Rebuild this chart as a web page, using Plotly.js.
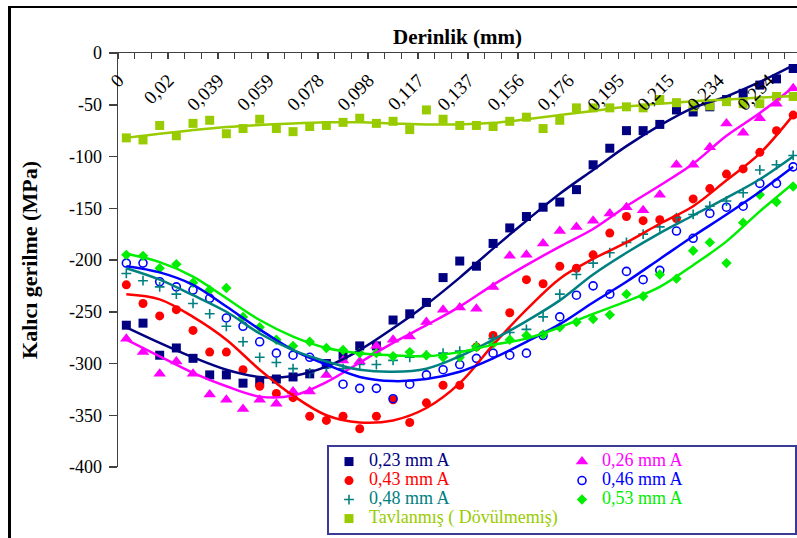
<!DOCTYPE html>
<html>
<head>
<meta charset="utf-8">
<script src="https://cdn.plot.ly/plotly-3.0.1.min.js"></script>
<style>
html,body{margin:0;padding:0;background:#fff;}
#wrap{position:relative;width:797px;height:538px;overflow:hidden;}
#chart{width:797px;height:538px;}
#frame{position:absolute;left:8px;top:6px;width:830px;height:580px;border-left:3px solid #000;border-top:2px solid #000;pointer-events:none;}
</style>
</head>
<body>
<div id="wrap"><div id="chart"></div><div id="frame"></div></div>
<script>
// Category index of each measured depth (depth step ~0.0065 mm)
const cats = [0,1,2,3,4,5,6,7,8,9,10,11,12,13,14,15,16,17,18,19,20,21,22,23,24,25,26,27,28,29,30,31,32,33,34,35,36,37,38,39,40];
// Labelled categories and their depth labels (mm)
const tickCats = [0,3,6,9,12,15,18,21,24,27,30,33,36,39];
const tickLabels = ["0","0,02","0,039","0,059","0,078","0,098","0,117","0,137","0,156","0,176","0,195","0,215","0,234","0,254"];
const yTickVals = [0,-50,-100,-150,-200,-250,-300,-350,-400];
const yTickText = ["0","-50","-100","-150","-200","-250","-300","-350","-400"];

// Measured residual stress (MPa)
const s023 = [-263,-261,-292,-285,-295,-311,-311,-319,-318,-315,-313,-310,-300,-292,-283,-283,-258,-252,-241,-217,-201,-206,-184,-169,-158,-149,-144,-132,-108,-92,-75,-75,-69,-55,-57,-52,-45,-39,-31,-25,-15];
const s026 = [-276,-289,-310,-298,-310,-330,-335,-344,-335,-339,-327,-327,-311,-297,-298,-283,-277,-274,-260,-248,-246,-247,-226,-196,-195,-184,-172,-168,-162,-155,-149,-152,-137,-108,-108,-91,-68,-77,-63,-49,-34];
const s043 = [-224,-242,-254,-248,-268,-289,-289,-306,-322,-329,-333,-351,-355,-351,-363,-351,-335,-357,-338,-321,-321,-284,-273,-251,-219,-223,-206,-208,-195,-174,-158,-162,-161,-160,-141,-131,-117,-112,-96,-75,-60];
const s046 = [-203,-203,-221,-226,-229,-237,-256,-264,-279,-290,-292,-294,-301,-320,-324,-324,-334,-320,-311,-306,-301,-295,-290,-292,-290,-273,-255,-234,-225,-233,-211,-219,-210,-172,-179,-155,-149,-148,-126,-126,-110];
const s048 = [-213,-220,-226,-233,-242,-252,-264,-279,-294,-299,-305,-309,-304,-305,-301,-301,-297,-294,-292,-290,-288,-283,-276,-270,-267,-255,-233,-214,-203,-193,-183,-175,-168,-159,-156,-148,-143,-135,-113,-108,-99];
const s053 = [-195,-196,-208,-204,-222,-229,-227,-255,-265,-277,-283,-279,-285,-287,-290,-290,-293,-289,-292,-294,-294,-284,-281,-277,-273,-272,-265,-260,-257,-253,-233,-235,-214,-218,-191,-183,-203,-164,-137,-144,-129];
const sTav = [-82,-84,-70,-80,-68,-65,-78,-73,-64,-73,-76,-71,-70,-67,-63,-68,-66,-74,-55,-64,-70,-70,-71,-66,-62,-73,-65,-53,-53,-53,-52,-53,-45,-48,-52,-51,-47,-49,-49,-42,-42];

// Trend curves at every second category
const trendCats = [0,2,4,6,8,10,12,14,16,18,20,22,24,26,28,30,32,34,36,38,40];
const t023 = [-265,-280,-294,-306,-313,-312,-303,-287,-266,-243,-217,-189,-162,-136,-113,-90,-70,-53,-42,-28,-12];
const t026 = [-277,-293,-309,-322,-332,-331,-318,-299,-280,-263,-245,-224,-205,-187,-170,-148,-128,-107,-80,-58,-33];
const t043 = [-233,-238,-255,-277,-306,-331,-350,-357,-355,-343,-319,-282,-248,-218,-199,-183,-165,-148,-123,-97,-60];
const t046 = [-206,-212,-224,-245,-267,-287,-301,-313,-317,-315,-308,-295,-279,-262,-241,-221,-199,-177,-156,-134,-110];
const t048 = [-208,-219,-234,-250,-271,-287,-298,-306,-308,-305,-293,-277,-259,-239,-214,-193,-174,-157,-140,-122,-100];
const t053 = [-194,-202,-216,-237,-258,-274,-285,-290,-292,-293,-289,-282,-276,-265,-252,-240,-226,-205,-182,-153,-126];
const tTav = [-82,-78,-74.5,-71.5,-69.5,-68,-67,-67,-68,-69,-69,-67.5,-64,-60,-56,-52,-49,-46.5,-45,-43,-41.5];

const seriesNames = ["0,23 mm A","0,26 mm A","0,43 mm A","0,46 mm A","0,48 mm A","0,53 mm A","Tavlanmış ( Dövülmemiş)"];
const pointSets = [s023,s026,s043,s046,s048,s053,sTav];
const trendSets = [t023,t026,t043,t046,t048,t053,tTav];

const styles = [
  {color:'#000080', symbol:'square', size:9, lw:0},
  {color:'#FF00FF', symbol:'triangle-up', size:11, lw:0},
  {color:'#FF0000', symbol:'circle', size:9, lw:0},
  {color:'#0000FF', symbol:'circle-open', size:8, lw:1.6},
  {color:'#008080', symbol:'cross-thin-open', size:7, lw:1.6},
  {color:'#00EE00', symbol:'diamond', size:8, lw:0},
  {color:'#99CC00', symbol:'square', size:9, lw:0}
];

const font = 'Liberation Serif';
const traces = [];
pointSets.forEach((ys, i) => {
  const st = styles[i];
  traces.push({
    type:'scatter', mode:'markers', x:cats, y:ys,
    name:'<span style="font-family:Liberation Serif;color:' + st.color + ';font-size:18px">' + seriesNames[i] + '</span>',
    marker:{symbol:st.symbol, size:st.size, color:st.color, line:{color:st.color, width:st.lw}},
    hoverinfo:'skip'
  });
});
trendSets.forEach((ys, i) => {
  const st = styles[i];
  traces.push({
    type:'scatter', mode:'lines', x:trendCats, y:ys, showlegend:false,
    line:{color:st.color, width:2.5, shape:'spline', smoothing:1},
    hoverinfo:'skip'
  });
});

const layout = {
  width:797, height:538,
  margin:{l:118, r:0, t:53, b:71, pad:0},
  paper_bgcolor:'#fff', plot_bgcolor:'#fff',
  font:{family:font, color:'#000'},
  showlegend:true,
  xaxis:{
    side:'top', range:[-0.5, 40.23], showline:true, linecolor:'#404040', linewidth:1.5,
    showgrid:false, zeroline:false, tickmode:'array', tickvals:tickCats, ticktext:tickLabels,
    ticks:'', tickangle:-45, ticklabelposition:'inside', ticklabeloverflow:'allow',
    ticklabelstandoff:19, ticklabelshift:-8,
    tickfont:{family:font, size:19, color:'#000'},
    minor:{ticks:'inside', ticklen:6, tickcolor:'#404040', tickwidth:1.2, tickmode:'linear', tick0:-0.5, dtick:1, showgrid:false},
    title:{text:'<b>Derinlik (mm)</b>', font:{family:font, size:21, color:'#000'}, standoff:19},
    fixedrange:true
  },
  yaxis:{
    range:[-400, 0], showline:true, linecolor:'#404040', linewidth:1.5,
    ticks:'outside', ticklen:8, tickcolor:'#404040', tickwidth:1.5,
    tickmode:'array', tickvals:yTickVals, ticktext:yTickText,
    tickfont:{family:font, size:18, color:'#000'}, ticklabelstandoff:3,
    showgrid:false, zeroline:false,
    title:{text:'<b>Kalıcı gerilme (MPa)</b>', font:{family:font, size:22, color:'#000'}, standoff:25},
    fixedrange:true
  },
  legend:{
    x:0.3078, xanchor:'left', y:0.053, yanchor:'top', orientation:'h',
    entrywidth:188, entrywidthmode:'pixels',
    bgcolor:'#fff', bordercolor:'#3a3a99', borderwidth:2,
    font:{family:font, size:12, color:'#000'}, traceorder:'normal'
  }
};

Plotly.newPlot('chart', traces, layout, {displayModeBar:false, staticPlot:true});
</script>
</body>
</html>
